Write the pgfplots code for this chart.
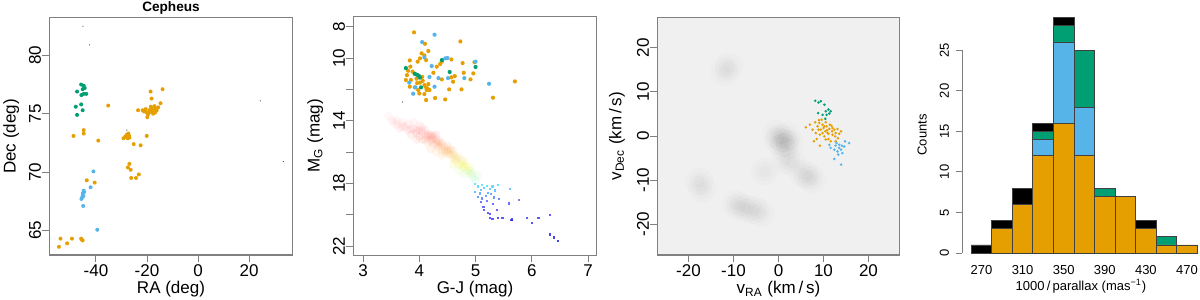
\documentclass[border=0pt]{standalone}
\usepackage{fontspec}
\setmainfont{Liberation Sans}
\usepackage{pgfplots}
\pgfplotsset{compat=1.18}
\definecolor{cor}{HTML}{E69F00}
\definecolor{csb}{HTML}{56B4E9}
\definecolor{cgr}{HTML}{009E73}
\definecolor{frm}{gray}{0.5}
\pgfplotsset{
 rstyle/.style={
  scale only axis,
  axis line style={draw=frm, line width=0.5pt},
  tick style={draw=frm, line width=0.5pt},
  tick align=outside, tick pos=left,
  major tick length=3.5pt,
  /pgf/number format/assume math mode=true,
  tick label style={font=\fontsize{8.5}{10}\selectfont},
  label style={font=\fontsize{8.5}{10}\selectfont},
  xticklabel style={yshift=2pt},
  yticklabel style={rotate=90, anchor=south, yshift=-3pt},
  xlabel style={at={(axis description cs:0.5,-0.145)}, anchor=center},
  ylabel style={at={(axis description cs:-0.155,0.5)}, anchor=center},
 },
 orpt/.style={only marks, mark=*, mark size=1.0pt, mark options={draw opacity=0, fill=cor}},
 sbpt/.style={only marks, mark=*, mark size=1.0pt, mark options={draw opacity=0, fill=csb}},
 grpt/.style={only marks, mark=*, mark size=1.0pt, mark options={draw opacity=0, fill=cgr}},
 bkpt/.style={only marks, mark=*, mark size=0.3pt, mark options={draw opacity=0, fill=black!80}},
}
\pgfplotstableread{
x y
0.5 -0.5
1.5 -1.5
0 -1
2 0
1 -2.5
-0.5 0.5
2.5 -2
-8.5 -16
-7 -16.5
-5.5 -16.8
-9.5 -15.5
-4 -17.5
6.5 -9
7.5 -10
5.5 -8.5
-11 15.8
-12 14.5
-17.6 -10.3
-17 -12
1.6 -5.4
3 -6
-3 -8
}\blobs
\begin{document}
\begin{tikzpicture}
\path[use as bounding box] (0,0) rectangle (600pt,150pt);
% ---------------- Panel 1 ----------------
\begin{axis}[rstyle, at={(24.5pt,22.5pt)}, anchor=south west,
  width=122pt, height=118.5pt,
  xmin=-58.4, xmax=37.2, ymin=62.9, ymax=83.2,
  xtick={-40,-20,0,20}, ytick={65,70,75,80},
  xlabel={RA (deg)}, ylabel={Dec (deg)},
  title={Cepheus},
  title style={at={(axis description cs:0.5,1)}, anchor=center, yshift=-1pt, font=\bfseries\fontsize{6.8}{8}\selectfont},
]
\addplot[bkpt] coordinates {(-45.1,82.5) (-42.5,80.9) (-27.9,73.6) (24.4,76.1) (33.4,70.9)};
\addplot[orpt] coordinates {
(-54.5,63.6) (-53.9,64.3) (-51.3,63.9) (-49.4,64.3) (-45.8,64.3) (-45.2,64.15) (-45.5,64.2)
(-43.6,69.3) (-40.5,69.1)
(-44.8,73.6) (-44.8,73.3) (-48.8,73.1) (-39.1,72.7) (-35.2,75.7)
(-29.2,72.9) (-28.2,73.0) (-27.6,72.9) (-27.0,73.1) (-27.9,73.2) (-27.3,73.3) (-27.6,73.1) (-26.9,72.95) (-28.5,73.05)
(-25.2,72.4) (-22.5,72.3) (-20.1,73.1)
(-27.5,70.4) (-26.9,70.7) (-26.4,70.2) (-26.2,69.5) (-24.3,69.5) (-23.2,69.8)
(-23.5,75.3) (-21.7,75.3) (-20.8,75.25) (-20.1,75.1) (-19.6,74.95) (-19.1,75.3) (-18.8,75.15) (-18.2,75.45) (-17.6,75.0) (-19.9,74.7) (-17.5,75.3) (-17.1,75.65) (-16.8,75.1) (-16.2,75.3) (-15.6,75.55) (-16.5,75.45) (-18.5,75.6) (-20.5,75.4) (-21.2,75.2) (-17.9,75.2)
(-18.6,76.9) (-18.2,76.3) (-13.9,77.1) (-14.7,75.9)
};
\addplot[sbpt] coordinates {
(-41.0,70.06) (-42.1,68.7) (-44.8,68.4) (-45.1,68.2) (-45.2,68.0) (-45.5,67.8) (-45.7,67.7) (-44.6,68.3) (-45.0,67.1) (-39.5,65.06) (-44.9,67.95)
};
\addplot[grpt] coordinates {
(-45.8,77.5) (-44.8,77.4) (-44.4,77.2) (-45.2,77.1) (-47.4,76.9) (-44.8,76.7) (-43.8,76.7) (-45.7,76.6)
(-45.8,75.8) (-47.9,75.6) (-45.2,75.3) (-47.4,74.9)
};
\end{axis}
% ---------------- Panel 2 ----------------
\begin{axis}[rstyle, at={(176.5pt,22.5pt)}, anchor=south west,
  width=122pt, height=119pt,
  xmin=2.82, xmax=7.16, ymin=7.38, ymax=22.57, y dir=reverse,
  xtick={3,4,5,6,7}, ytick={8,10,...,22}, yticklabels={8,10,{},14,{},18,{},22},
  xlabel={G-J (mag)}, ylabel={M\textsubscript{G} (mag)},
  colormap={cmd}{rgb255(0cm)=(255,215,215); rgb255(1.5cm)=(255,90,90); rgb255(2.6cm)=(255,150,50); rgb255(3.6cm)=(235,245,20); rgb255(4.2cm)=(130,240,120); rgb255(4.8cm)=(60,220,255); rgb255(6cm)=(60,60,255); rgb255(8.4cm)=(0,0,220)},
  point meta min=13.3, point meta max=21.7,
]
\addplot[scatter, only marks, mark=*, mark size=2.2pt, point meta=y,
  scatter/use mapped color={draw opacity=0, fill=mapped color, fill opacity=0.09}] coordinates {
(3.45,13.7) (3.5,13.95) (3.6,14.0) (3.6,14.25) (3.7,14.1) (3.75,14.4) (3.8,14.6) (3.9,14.5)
(3.85,14.9) (3.95,14.8) (4.0,15.0) (4.05,14.7) (4.1,15.2) (4.15,15.0) (4.2,15.3) (4.25,15.5) (4.3,15.4)
(4.35,15.7) (4.4,15.9) (4.45,15.7) (4.5,16.1) (4.55,16.2) (4.6,16.4) (4.65,16.6) (4.7,16.8) (4.75,16.9)
(4.8,17.0) (4.85,17.2) (4.9,17.4) (4.95,17.6) (5.0,17.8) (4.3,14.9) (4.5,15.6) (4.1,14.6) (4.6,15.9)
(4.0,14.3) (4.7,16.3) (4.4,16.2) (4.2,15.8) (4.8,16.6) (3.9,14.1) (4.15,15.4) (4.35,15.3) (4.05,15.2)
(4.25,15.1) (4.45,16.0) (4.55,15.8) (4.65,16.3) (4.75,16.5) (4.85,16.9) (4.7,17.2) (4.9,17.0) (5.05,17.5)
(3.65,14.5) (3.8,14.2) (4.0,14.6) (4.2,14.9) (4.4,15.4) (4.6,16.8) (4.8,17.4) (3.95,15.2) (4.3,16.0)
(4.2,15.0) (4.3,15.2) (4.25,14.95) (4.35,15.45) (4.15,14.85) (4.5,15.9) (4.6,16.15) (4.75,16.75)
(3.55,14.1) (3.7,14.35) (3.85,14.55) (3.95,14.65) (4.1,14.95) (4.4,15.6) (4.55,16.0) (4.65,16.45)
(4.8,16.85) (4.9,17.2) (4.95,17.35) (4.05,14.45) (4.22,15.2) (4.32,15.55) (4.48,15.85)
};
\addplot[scatter, only marks, mark=square*, mark size=0.55pt, point meta=y,
  scatter/use mapped color={draw opacity=0, fill=mapped color, fill opacity=0.75}] coordinates {
(4.99,18.05) (5.05,18.2) (5.12,18.1) (5.15,18.3) (5.2,18.15) (5.1,18.4) (5.25,18.35) (5.3,18.2) (5.35,18.45) (5.4,18.1)
(4.99,18.53) (5.08,18.64) (5.12,18.96) (5.1,19.17) (5.14,19.49) (5.22,19.91) (5.26,20.23) (5.3,20.28)
(5.4,20.19) (5.48,20.23) (5.64,20.34) (5.91,20.23) (6.0,20.55) (6.12,20.19) (6.32,20.04) (6.33,21.26)
(6.39,21.45) (6.46,21.66) (5.61,18.38) (5.59,19.28) (5.77,19.06) (5.38,19.7) (5.31,19.32) (5.18,18.8)
(5.22,18.6) (5.28,18.7) (5.05,18.85) (5.2,19.1) (5.33,18.9) (5.42,19.0) (5.15,19.7) (5.25,19.95) (5.65,20.3)
};
\addplot[bkpt] coordinates {(3.70,12.8) (4.12,12.64) (4.2,11.15)};
\addplot[orpt, mark size=1.05pt] coordinates {
(3.905,8.36) (4.73,8.94) (4.10,9.09) (4.16,9.55) (4.04,9.70) (4.09,9.83) (4.01,10.02) (4.12,10.13)
(3.83,10.15) (3.97,10.23) (4.31,10.55) (4.37,10.38) (4.40,10.23) (4.57,10.09) (4.77,10.32) (4.98,10.26)
(3.84,10.55) (3.80,10.81) (3.88,10.87) (3.78,11.09) (3.76,11.40) (3.85,11.40) (3.92,11.02) (3.95,11.32)
(3.83,11.83) (3.92,11.87) (3.98,12.04) (4.01,11.57) (4.06,11.45) (4.09,11.72) (4.12,11.87) (4.16,11.66)
(4.13,12.04) (4.18,12.04) (4.09,12.30) (4.12,12.68) (4.00,12.26) (4.28,12.55) (4.46,12.64) (4.53,12.00)
(4.60,11.51) (4.57,11.23) (4.63,11.15) (4.25,10.94) (4.40,11.36) (4.79,10.94) (4.91,11.36) (4.96,10.98)
(4.75,12.00) (5.31,12.53) (5.70,11.49) (4.05,11.2) (4.14,11.95) (3.96,11.6)
};
\addplot[sbpt, mark size=1.05pt] coordinates {
(4.27,8.51) (4.05,8.98) (4.09,9.96) (4.46,10.02) (4.50,10.00) (4.22,10.51) (4.18,11.21) (4.34,11.28)
(4.51,11.28) (4.80,11.28) (3.82,11.57) (3.93,11.87) (4.27,11.83) (3.89,12.28) (5.00,10.23) (5.24,11.64)
};
\addplot[grpt, mark size=1.05pt] coordinates {
(3.76,10.64) (4.40,10.13) (4.54,10.89) (5.00,10.57) (3.92,11.0) (3.96,11.07) (3.99,11.13) (4.01,11.25) (4.03,11.87)
};
\end{axis}
% ---------------- Panel 3 ----------------
\begin{axis}[rstyle, at={(328.5pt,22.5pt)}, anchor=south west,
  width=121.5pt, height=119pt,
  xmin=-27, xmax=27, ymin=-27, ymax=27,
  xtick={-20,-10,...,20}, ytick={-20,-10,...,20},
  axis background/.style={fill=black!6},
  xlabel={v\textsubscript{RA} (km\,/\,s)}, ylabel={v\textsubscript{Dec} (km\,/\,s)},
  ylabel style={at={(axis description cs:-0.165,0.5)}},
]
\addplot[only marks, mark=*, mark size=7pt, mark options={draw opacity=0, fill=black, fill opacity=0.01}] table {\blobs};
\addplot[only marks, mark=*, mark size=5pt, mark options={draw opacity=0, fill=black, fill opacity=0.013}] table {\blobs};
\addplot[only marks, mark=*, mark size=3pt, mark options={draw opacity=0, fill=black, fill opacity=0.016}] table {\blobs};
\addplot[grpt, mark size=0.7pt] coordinates {
(8.15,8.0) (8.9,7.6) (9.4,7.9) (10.2,7.1) (11.1,6.0) (11.6,5.6) (10.5,5.6) (8.8,5.2) (9.8,4.8) (10.7,4.8) (10.4,3.9) (11.3,5.1)
};
\addplot[orpt, mark size=0.7pt] coordinates {
(6.08,1.97) (6.97,2.57) (7.56,1.44) (8.16,3.1) (8.68,2.2) (9.05,2.95) (9.42,1.44) (9.79,2.57) (10.0,1.8)
(10.4,1.06) (10.7,2.2) (10.9,0.68) (11.3,1.59) (11.4,2.57) (11.9,1.06) (12.0,0.3) (12.4,1.44) (12.6,-0.08)
(12.7,0.68) (13.1,1.59) (13.5,0.53) (13.9,1.06) (11.1,-0.7) (10.2,-0.08) (9.2,0.3) (8.3,0.68) (7.9,-1.2)
(9.2,-2.2) (11.6,-1.2) (12.7,-1.2) (9.6,3.7) (10.5,3.1) (8.9,1.44) (9.8,0.68) (11.1,0.53) (12.0,1.8)
(10.2,2.2) (8.5,-0.7) (13.2,-0.5) (10.5,-0.8) (9.0,3.6) (11.8,2.3) (10.8,1.3)
};
\addplot[sbpt, mark size=0.7pt] coordinates {
(11.6,-2.7) (12.4,-3.1) (12.7,-2.2) (13.1,-3.5) (13.5,-2.7) (13.9,-3.1) (14.2,-3.9) (14.6,-2.4) (15.7,-1.6)
(14.8,-1.2) (13.3,-4.2) (12.4,-5.2) (13.9,-6.5) (11.3,-2.0) (12.9,-1.6) (13.5,-2.0) (14.1,-2.2)
};
\end{axis}
% ---------------- Panel 4 ----------------
\begin{axis}[scale only axis, at={(481pt,19pt)}, anchor=south west,
  width=119pt, height=127pt,
  xmin=251, xmax=482.7, ymin=-1.1, ymax=30.2,
  clip=false,
  ybar stacked, bar width=20,
  axis x line*=bottom, axis y line*=left,
  x axis line style={draw=none}, y axis line style={draw=none},
  xtick={270,310,...,470}, xtick style={draw=none},
  ytick={0,5,...,25}, ytick style={draw=frm, line width=0.5pt},
  tick align=outside, major tick length=3pt,
  /pgf/number format/assume math mode=true,
  tick label style={font=\fontsize{6.5}{8}\selectfont},
  label style={font=\fontsize{6.5}{8}\selectfont},
  xticklabel style={yshift=5pt},
  yticklabel style={rotate=90, anchor=south},
  xlabel={1000\,/\,parallax (mas\textsuperscript{−1})},
  ylabel={Counts},
  xlabel style={at={(axis description cs:0.5,-0.094)}, anchor=center},
  ylabel style={at={(axis description cs:-0.168,0.5)}, anchor=center},
]
\addplot[fill=cor, draw=black!75, line width=0.4pt] coordinates {(270,0) (290,3) (310,6) (330,12) (350,16) (370,12) (390,7) (410,7) (430,3) (450,1) (470,1)};
\addplot[fill=csb, draw=black!75, line width=0.4pt] coordinates {(270,0) (290,0) (310,0) (330,2) (350,10) (370,6) (390,0) (410,0) (430,0) (450,0) (470,0)};
\addplot[fill=cgr, draw=black!75, line width=0.4pt] coordinates {(270,0) (290,0) (310,0) (330,1) (350,2) (370,7) (390,1) (410,0) (430,0) (450,1) (470,0)};
\addplot[fill=black, draw=black!75, line width=0.4pt] coordinates {(270,1) (290,1) (310,2) (330,1) (350,1) (370,0) (390,0) (410,0) (430,1) (450,0) (470,0)};
\draw[frm, line width=0.5pt] (axis cs:251,0) -- (axis cs:251,25);
\end{axis}
\end{tikzpicture}
\end{document}
